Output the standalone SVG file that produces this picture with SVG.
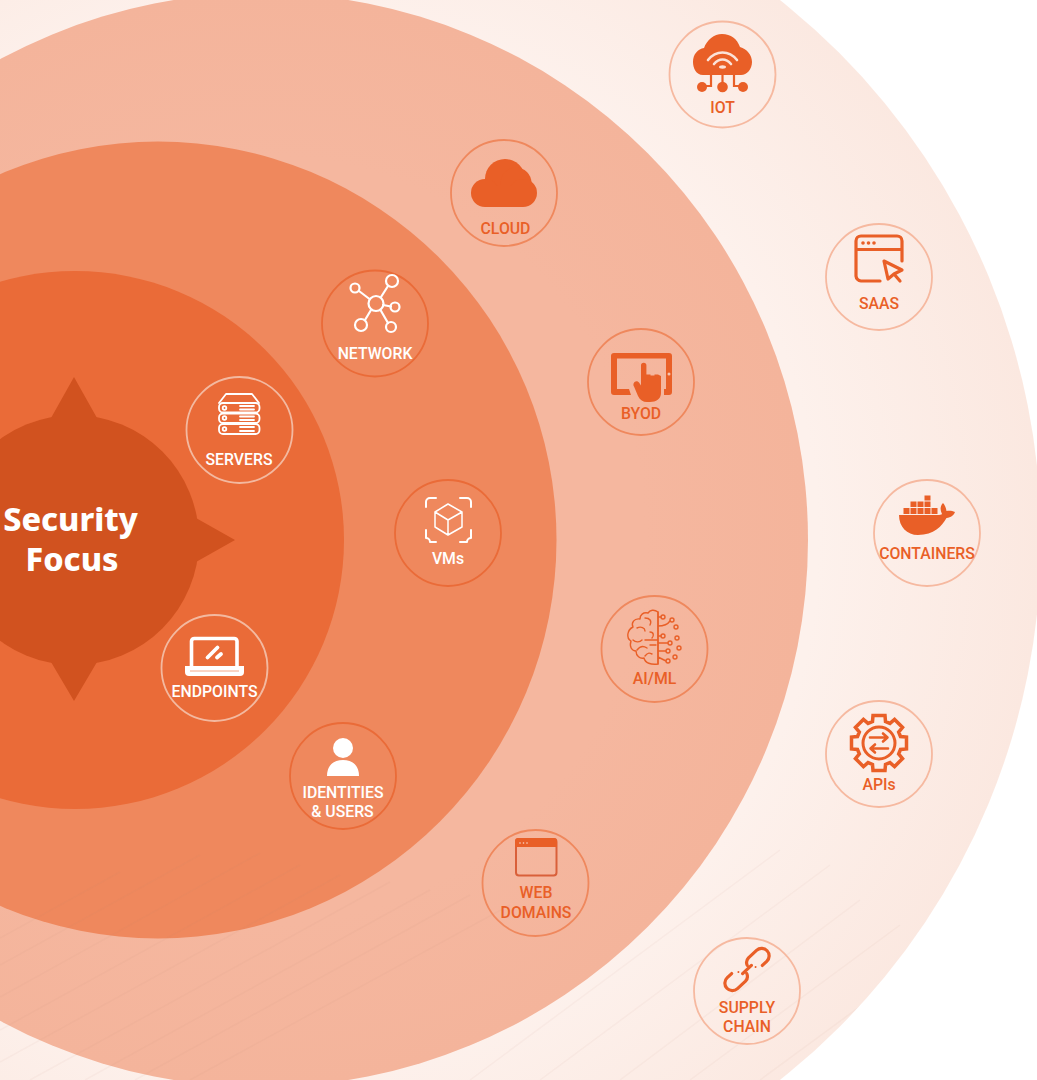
<svg xmlns="http://www.w3.org/2000/svg" width="1037" height="1080" viewBox="0 0 1037 1080">
<style>
.lb{font-family:Roboto,"Liberation Sans",sans-serif;font-weight:500;font-size:15.800px;text-anchor:middle}
.o{fill:#e95f27}.w{fill:#fff}
.ring{fill:none;stroke-width:1.800}
.s{fill:none;stroke:#e95f27;stroke-linecap:round;stroke-linejoin:round}
.sw{fill:none;stroke:#fff;stroke-linecap:round;stroke-linejoin:round}
.tt{font-family:"Noto Sans","Open Sans",sans-serif;font-weight:800;font-size:32.400px;fill:#fff;text-anchor:middle}
</style>
<defs>
<radialGradient id="g4" gradientUnits="userSpaceOnUse" cx="300" cy="540" r="740"><stop offset="0.7" stop-color="#fdf1ec"/><stop offset="1" stop-color="#fbe8e0"/></radialGradient>
<radialGradient id="g3" gradientUnits="userSpaceOnUse" cx="261" cy="540" r="547"><stop offset="0.7" stop-color="#f5b79f"/><stop offset="1" stop-color="#f4b49b"/></radialGradient>
<clipPath id="c4"><circle cx="352" cy="540" r="689"/></clipPath>
</defs>
<rect width="1037" height="1080" fill="#fff"/>
<g id="rings">
<circle cx="352" cy="540" r="689" fill="url(#g4)"/>
<circle cx="261" cy="540" r="547" fill="url(#g3)"/>
<circle cx="158" cy="540" r="398.5" fill="#ef885d"/>
<circle cx="75" cy="540" r="269" fill="#ea6b38"/>
</g>
<g id="banding" clip-path="url(#c4)" fill="none" stroke="#b98a72" stroke-opacity=".06" stroke-width="1.500">
<path d="M0 938L120 872M0 965L200 855M0 997L260 853M0 1030L300 865M0 1062L340 875M30 1080L390 882M85 1080L430 890M135 1080L470 895M190 1080L510 905"/>
<path d="M470 1080L780 850M540 1080L830 865M620 1080L860 900M690 1080L900 925M760 1080L930 955"/>
</g>
<g id="core" fill="#d1521f">
<circle cx="74" cy="540" r="125"/>
<path d="M74 377L97 418H51ZM74 701L97 662H51ZM235 540L196 518V562Z"/>
<text class="tt" x="70.500" y="531">Security</text>
<text class="tt" x="72" y="571">Focus</text>
</g>
<g id="connectors"/>

<g id="iot">
<circle class="ring" cx="722.500" cy="74.500" r="53" stroke="#f6b9a0"/>
<path class="o" d="M703 75C696 75 693 68 693 62C693 54 698 49 704 48C707 40 714 34 722 34C731 34 737 39 740 47C747 49 752 55 752 62C752 69 747 75 741 75Z"/>
<path d="M708 60C716 50 729 50 737 60M714 64C719 58 726 58 731 64" fill="none" stroke="#fbe2d8" stroke-width="2.600" stroke-linecap="round"/>
<ellipse cx="722.500" cy="67" rx="3.500" ry="1.700" fill="#fbe2d8"/>
<path d="M722.500 72V87M711 72V86H702M734 72V86H743" fill="none" stroke="#e95f27" stroke-width="2.200"/>
<circle class="o" cx="702" cy="87" r="5"/><circle class="o" cx="722.500" cy="87" r="5.300"/><circle class="o" cx="743" cy="87" r="5"/>
<text class="lb o" x="722.500" y="113">IOT</text>
</g>

<g id="saas">
<circle class="ring" cx="879" cy="277" r="53" stroke="#f6b9a0"/>
<path class="s" stroke-width="3.200" d="M880 281H861A5.500 5.500 0 0 1 856 276V241A5 5 0 0 1 861 236H897A5 5 0 0 1 902 241V261M856 249.500H902"/>
<circle class="o" cx="863" cy="243" r="1.800"/><circle class="o" cx="868.500" cy="243" r="1.800"/><circle class="o" cx="874" cy="243" r="1.800"/>
<path class="s" stroke-width="3.200" d="M884 261L902 270L894 274L888 279ZM894 274L900 281"/>
<text class="lb o" x="879" y="308.500">SAAS</text>
</g>

<g id="cloud">
<circle class="ring" cx="504" cy="193" r="53" stroke="#ef885d"/>
<g class="o"><circle cx="505" cy="179" r="20"/><circle cx="516" cy="183" r="15.500"/><circle cx="523" cy="193" r="14"/><circle cx="485" cy="193" r="14"/><rect x="485" y="186" width="38" height="21"/></g>
<text class="lb o" x="505.500" y="234">CLOUD</text>
</g>

<g id="network">
<circle class="ring" cx="375" cy="323.500" r="53" stroke="#ea6b38"/>
<g class="sw" stroke-width="2.200">
<circle cx="376" cy="303.500" r="7.500"/><circle cx="392" cy="281" r="6"/><circle cx="355" cy="288" r="4.500"/><circle cx="395" cy="307" r="4.500"/><circle cx="361" cy="325" r="6"/><circle cx="391" cy="327" r="5"/>
<path d="M381 297L388 286M369.500 299L359 291M383 305L391 306.500M371 310L365 320M380.500 310L388 323"/>
</g>
<text class="lb w" x="375" y="359">NETWORK</text>
</g>

<g id="byod">
<circle class="ring" cx="641" cy="382" r="53" stroke="#ef885d"/>
<path class="o" fill-rule="evenodd" d="M631 395H614A3 3 0 0 1 611 392V356A3 3 0 0 1 614 353H669A3 3 0 0 1 672 356V392A3 3 0 0 1 669 395H664V389H666V358.500H617V389H629Z"/>
<circle cx="669" cy="374" r="1.500" fill="#f5c4b0"/>
<path class="o" d="M641 365.500A2.700 2.700 0 0 1 646.400 365.500V374.500H650.500V375.500H654.500V374.500H658L661 376V393C661 399 656 402 650 402H647C643 402 640 400 638 396L634 386.500C632 383 636 379 639 382.500L641 385.500Z"/>
<text class="lb o" x="641" y="419">BYOD</text>
</g>

<g id="containers">
<circle class="ring" cx="927" cy="533" r="53" stroke="#f6b9a0"/>
<g class="o">
<rect x="903.500" y="508" width="6" height="6"/><rect x="910.500" y="508" width="6" height="6"/><rect x="917.500" y="508" width="6" height="6"/><rect x="924.500" y="508" width="6" height="6"/><rect x="931.500" y="508" width="6" height="6"/>
<rect x="910.500" y="501.500" width="6" height="5.500"/><rect x="917.500" y="501.500" width="6" height="5.500"/><rect x="924.500" y="501.500" width="6" height="5.500"/>
<rect x="924.500" y="495.500" width="6" height="5"/>
<path d="M899 515H939C941 515 942 514 942 514C940 510 940 506 943 503C945 505 946 508 946.500 511C949 510.500 952 510.500 955 512C954 515 951 517.500 946.500 518C942 526 934 535 918 535C907 535 899 527 899 515Z"/>
</g>
<text class="lb o" x="927" y="559">CONTAINERS</text>
</g>

<g id="aiml">
<circle class="ring" cx="654.500" cy="649" r="53" stroke="#ef885d"/>
<g class="s" stroke-width="1.400">
<path d="M658 612C654 609 650 610 648 613C643 612 640 615 640 619C634 618 631 623 633 627C627 630 626 638 631 641C629 647 632 651 636 651C636 656 640 659 644 658C645 663 651 665 658 664Z"/>
<path d="M658 612V664M645 618C650 618 652 621 650 625M637 628C641 626 645 628 645 631M650 632C654 632 654 636 652 638M633 640C636 643 640 642 642 640M645 640H657M637 650C640 646 644 646 647 648M650 645H656M645 656C648 652 650 653 652 654M658 617H661M658 626C664 626 668 624 670 621M658 636H661M658 643H668M658 651H666M658 657L666 661"/>
<circle cx="663" cy="617" r="2"/><circle cx="672" cy="620" r="2"/><circle cx="676" cy="627" r="2"/><circle cx="663" cy="636" r="2"/><circle cx="677" cy="638" r="2"/><circle cx="670" cy="643" r="2"/><circle cx="679" cy="648" r="2"/><circle cx="668" cy="651" r="2"/><circle cx="675" cy="657" r="2"/><circle cx="668" cy="661" r="2"/>
</g>
<text class="lb o" x="654.500" y="684">AI/ML</text>
</g>

<g id="apis">
<circle class="ring" cx="879" cy="754" r="53" stroke="#f6b9a0"/>
<g class="s" transform="translate(879 743)" stroke-width="3.500">
<path stroke-linecap="butt" stroke-linejoin="miter" d="M-6.500 -21.500L-6 -27.500H6L6.500 -21.500L10.960 -19.650L15.560 -23.540L23.540 -15.560L19.650 -10.960L21.500 -6.500L27.500 -6V6L21.500 6.500L19.650 10.960L23.540 15.560L15.560 23.540L10.960 19.650L6.500 21.500L6 27.500H-6L-6.500 21.500L-10.960 19.650L-15.560 23.540L-23.540 15.560L-19.650 10.960L-21.500 6.500L-27.500 6V-6L-21.500 -6.500L-19.650 -10.960L-23.540 -15.560L-15.560 -23.540L-10.960 -19.650Z"/>
<circle r="16" stroke-width="3"/>
<path stroke-width="2.600" d="M-9 -5.500H8M4 -9.500L8.500 -5.500L4 -1.500M9 5.500H-8M-4 1.500L-8.500 5.500L-4 9.500"/>
</g>
<text class="lb o" x="879" y="790">APIs</text>
</g>

<g id="web">
<circle class="ring" cx="535.500" cy="883" r="53" stroke="#ef885d"/>
<rect x="516" y="839" width="40.500" height="36.500" rx="3" fill="none" stroke="#d9603a" stroke-width="2"/>
<path class="o" d="M515 847V841A3 3 0 0 1 518 838H554A3 3 0 0 1 557 841V847Z"/>
<circle cx="520" cy="843" r=".8" fill="#fbd9cb"/><circle cx="523.500" cy="843" r=".8" fill="#fbd9cb"/><circle cx="527" cy="843" r=".8" fill="#fbd9cb"/>
<text class="lb o" x="536" y="898">WEB</text>
<text class="lb o" x="536" y="918">DOMAINS</text>
</g>

<g id="supply">
<circle class="ring" cx="747" cy="991" r="53" stroke="#f6b9a0"/>
<g class="s" transform="translate(747 969.500) rotate(-43)" stroke-width="3.200">
<path d="M3 -3A7 7 0 0 1 9 -7.500H20A7.500 7.500 0 0 1 20 7.500H14M-3 3A7 7 0 0 1 -9 7.500H-20A7.500 7.500 0 0 1 -20 -7.500H-14M-6 0H6"/>
<path stroke-width="2" d="M-8 -4V-4M8 4V4"/>
</g>
<text class="lb o" x="747" y="1013">SUPPLY</text>
<text class="lb o" x="747" y="1032">CHAIN</text>
</g>

<g id="servers">
<circle class="ring" cx="239.500" cy="430" r="53" stroke="#f3b9a0"/>
<g class="sw" stroke-width="1.800">
<path d="M219 403L226 394H252L259 403"/>
<rect x="219" y="403" width="40.500" height="9.500" rx="4"/><rect x="219" y="413.500" width="40.500" height="9.500" rx="4"/><rect x="219" y="424" width="40.500" height="10" rx="4"/>
<circle cx="224.500" cy="408" r="1.800"/><circle cx="224.500" cy="418" r="1.800"/><circle cx="224.500" cy="429" r="1.800"/>
<path d="M240 406H254M240 409.500H254M240 416.500H254M240 420H254M240 427H254M240 431H254"/>
</g>
<text class="lb w" x="239" y="465">SERVERS</text>
</g>

<g id="vms">
<circle class="ring" cx="448" cy="533" r="53" stroke="#ea6b38"/>
<g class="sw" stroke-width="2">
<path d="M426 507V502A4 4 0 0 1 430 498H436M460 498H467A4 4 0 0 1 471 502V507M426 530V538A4 4 0 0 1 430 542H436M460 542H467A4 4 0 0 1 471 538V530"/>
<path stroke-width="1.500" d="M448 504L462 512V527L448 535L435 527V512ZM435 512L448 520L462 512M448 520V535"/>
</g>
<text class="lb w" x="448" y="564">VMs</text>
</g>

<g id="endpoints">
<circle class="ring" cx="214.500" cy="668" r="53" stroke="#f3b9a0"/>
<path class="sw" stroke-width="3.600" d="M191.500 667V641A3 3 0 0 1 194.500 638.500H234A3 3 0 0 1 237 641V667"/>
<path class="w" d="M185 666H244V672A4 4 0 0 1 240 676H189A4 4 0 0 1 185 672Z"/>
<path d="M190 671H239" stroke="#f3a888" stroke-width="1"/>
<path class="sw" stroke-width="3.800" d="M207.500 657.500L217.500 647.500M217 657.500L221 654"/>
<text class="lb w" x="214.500" y="697">ENDPOINTS</text>
</g>

<g id="identities">
<circle class="ring" cx="343" cy="776" r="53" stroke="#ea6b38"/>
<circle class="w" cx="343" cy="748" r="10"/>
<path class="w" d="M327 776C327 766 333 760 343 760C353 760 359 766 359 776Z"/>
<text class="lb w" x="343" y="798">IDENTITIES</text>
<text class="lb w" x="342.500" y="817">&amp; USERS</text>
</g>
</svg>
